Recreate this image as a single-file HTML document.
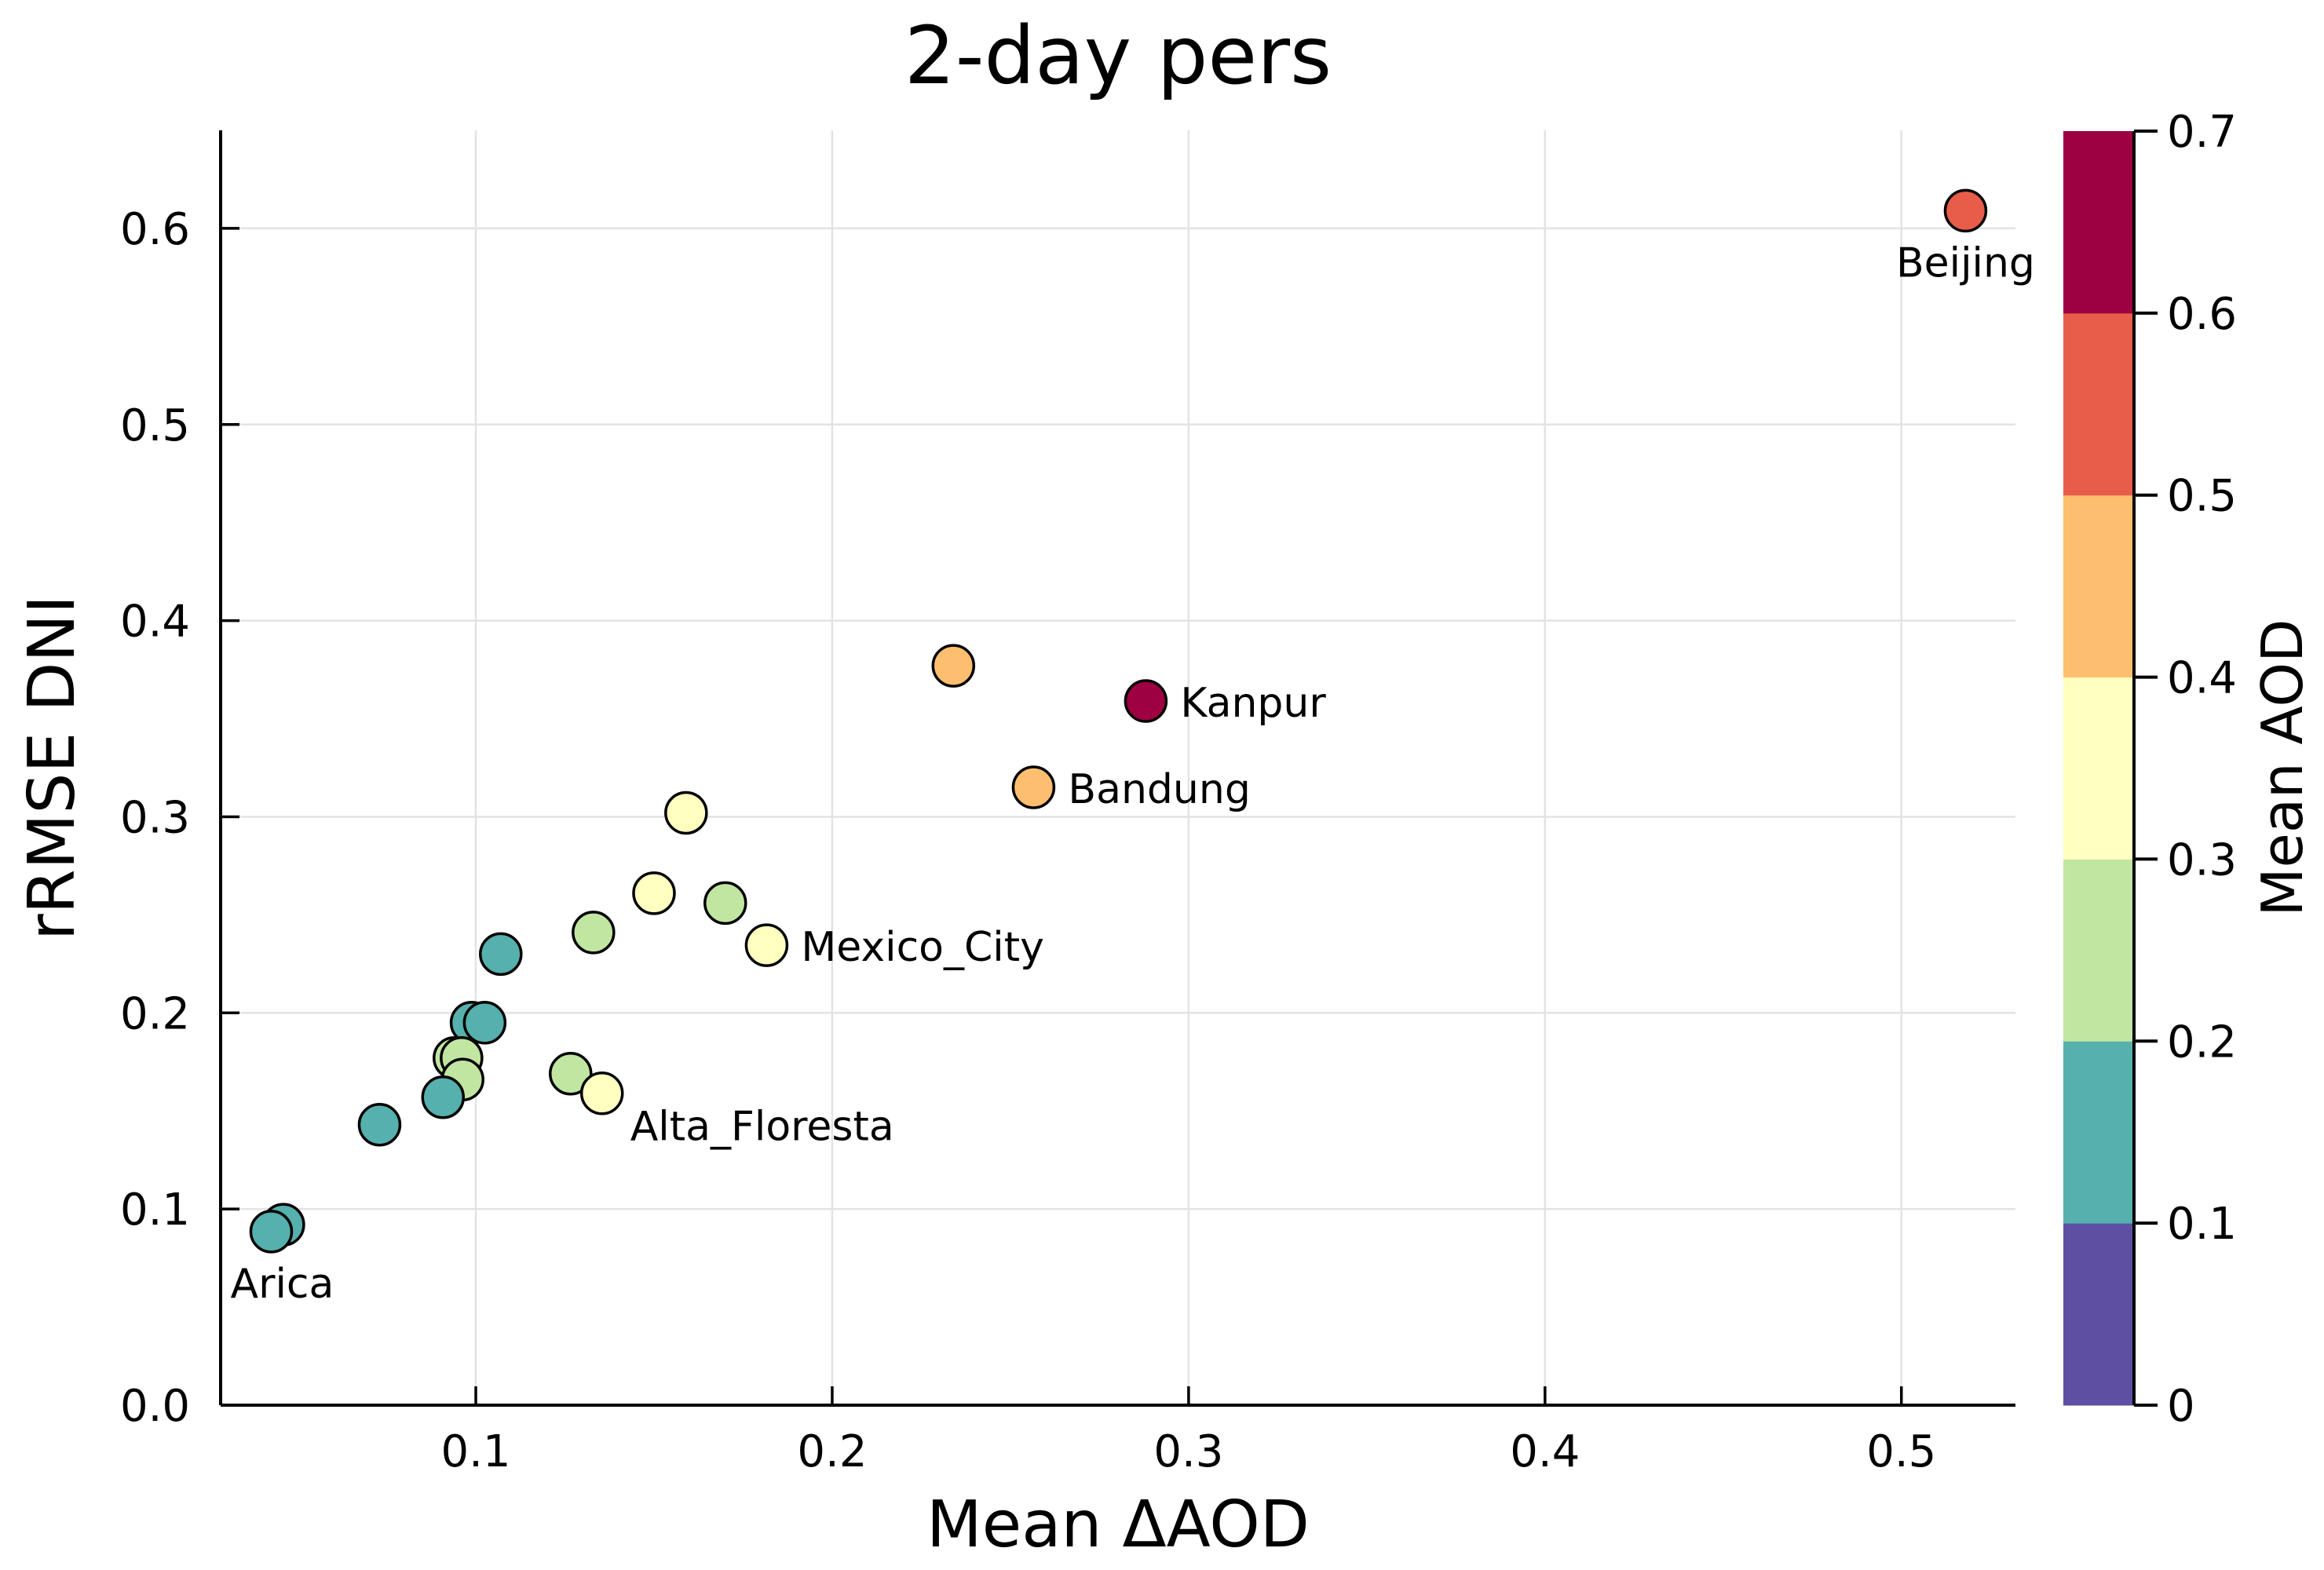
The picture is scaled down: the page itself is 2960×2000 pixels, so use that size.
<!DOCTYPE html>
<html><head><meta charset="utf-8"><style>
html,body{margin:0;padding:0;background:#fff;}
svg{display:block;font-family:"DejaVu Sans","Liberation Sans",sans-serif;}
</style></head><body>
<svg id="chart" width="2960" height="2000" viewBox="0 0 2960 2000" xmlns="http://www.w3.org/2000/svg">
<rect width="2960" height="2000" fill="#fff"/>
<g id="grid"></g>
<g id="axes"></g>
<g id="points"></g>
<g id="labels"></g>
<g id="cbar"></g>
<text x="1424" y="106" font-size="102" text-anchor="middle">2-day pers</text>
<text x="1424" y="1970" font-size="82" text-anchor="middle">Mean ΔAOD</text>
<text x="0" y="0" font-size="82" text-anchor="middle" transform="translate(94,978) rotate(-90)">rRMSE DNI</text>
<text x="0" y="0" font-size="72" text-anchor="middle" transform="translate(2932,978) rotate(-90)">Mean AOD</text>
</svg>
<script>
const xVals = [0.518, 0.288, 0.234, 0.2565, 0.159, 0.150, 0.170, 0.1816, 0.133, 0.107, 0.0988, 0.1025, 0.094, 0.096, 0.0963, 0.0908, 0.1266, 0.1354, 0.073, 0.046, 0.0426];
const yVals = [0.609, 0.359, 0.377, 0.315, 0.302, 0.261, 0.256, 0.2345, 0.241, 0.230, 0.195, 0.195, 0.177, 0.177, 0.166, 0.157, 0.169, 0.159, 0.143, 0.092, 0.0885];
const aodVals = [0.55, 0.65, 0.45, 0.45, 0.35, 0.35, 0.25, 0.35, 0.25, 0.15, 0.15, 0.15, 0.25, 0.25, 0.25, 0.15, 0.25, 0.35, 0.15, 0.15, 0.15];
const pointNames = ["Beijing", "Kanpur", "", "Bandung", "", "", "", "Mexico_City", "", "", "", "", "", "", "", "", "", "Alta_Floresta", "", "", "Arica"];
const xTicks = [0.1, 0.2, 0.3, 0.4, 0.5];
const xTickLabels = ["0.1", "0.2", "0.3", "0.4", "0.5"];
const yTicks = [0, 0.1, 0.2, 0.3, 0.4, 0.5, 0.6];
const yTickLabels = ["0.0", "0.1", "0.2", "0.3", "0.4", "0.5", "0.6"];
const cbTicks = [0, 0.1, 0.2, 0.3, 0.4, 0.5, 0.6, 0.7];
const cbTickLabels = ["0", "0.1", "0.2", "0.3", "0.4", "0.5", "0.6", "0.7"];
const cbColors = ["#5e4fa2", "#56b0ad", "#c1e6a1", "#ffffc0", "#fdbf6f", "#e85d4a", "#9e0142"];

const NS = "http://www.w3.org/2000/svg";
const L = 281, R = 2567, T = 166, B = 1790;
const xMin = 0.0284, xMax = 0.532, yMin = 0, yMax = 0.65;
function sx(v){ return L + (v - xMin) / (xMax - xMin) * (R - L); }
function sy(v){ return B - (v - yMin) / (yMax - yMin) * (B - T); }
const cbL = 2628, cbR = 2718, cbMax = 0.7;
function cy(v){ return B - v / cbMax * (B - 167); }
function mk(tag, attrs, parent){ const e = document.createElementNS(NS, tag); for (const k in attrs) e.setAttribute(k, attrs[k]); parent.appendChild(e); return e; }

const grid = document.getElementById('grid');
const axes = document.getElementById('axes');
xTicks.forEach((t, i) => {
  const g = mk('line', {x1: sx(t), x2: sx(t), y1: T, y2: B, stroke: '#e3e3e3', 'stroke-width': 2.5}, grid);
  
  
  const tk = mk('line', {x1: sx(t), x2: sx(t), y1: B, y2: B - 24, stroke: '#000', 'stroke-width': 3.5}, axes);
  
  
  const tx = mk('text', {x: sx(t), y: 1868, 'font-size': 56, 'text-anchor': 'middle'}, axes);
  tx.textContent = xTickLabels[i];
  
  
});
yTicks.forEach((t, i) => {
  const g = mk('line', {x1: L, x2: R, y1: sy(t), y2: sy(t), stroke: '#e3e3e3', 'stroke-width': 2.5}, grid);
  
  
  const tk = mk('line', {x1: L, x2: L + 24, y1: sy(t), y2: sy(t), stroke: '#000', 'stroke-width': 3.5}, axes);
  
  
  const tx = mk('text', {x: 242, y: sy(t) + 20, 'font-size': 56, 'text-anchor': 'end'}, axes);
  tx.textContent = yTickLabels[i];
  
  
});
const xa = mk('line', {x1: L, x2: R, y1: B, y2: B, stroke: '#000', 'stroke-width': 4}, axes);


const ya = mk('line', {x1: L, x2: L, y1: T, y2: B, stroke: '#000', 'stroke-width': 4}, axes);



function colorFor(v){ let i = Math.floor(v / 0.1); if (i < 0) i = 0; if (i > cbColors.length - 1) i = cbColors.length - 1; return cbColors[i]; }
const pts = document.getElementById('points');
const labs = document.getElementById('labels');
xVals.forEach((xv, i) => {
  const c = mk('circle', {cx: sx(xv), cy: sy(yVals[i]), r: 26, fill: colorFor(aodVals[i]), stroke: '#000', 'stroke-width': 3.5}, pts);
  
  
  const nm = pointNames[i];
  if (nm) {
    let x = sx(xv), y = sy(yVals[i]), anchor = 'start';
    if (nm === 'Beijing' || nm === 'Arica') { anchor = 'middle'; y += 84; if (nm === 'Arica') x += 14; }
    else { x += 44; y += 20; if (nm === 'Alta_Floresta') { y += 40; x -= 8; } }
    const t = mk('text', {x: x, y: y, 'font-size': 52, 'text-anchor': anchor}, labs);
    t.textContent = nm;
    
    
  }
});

const cb = document.getElementById('cbar');
cbColors.forEach((col, i) => {
  const r = mk('rect', {x: cbL, y: cy((i + 1) * 0.1), width: cbR - cbL, height: cy(i * 0.1) - cy((i + 1) * 0.1) + 0.5, fill: col}, cb);
  
  
});
const cba = mk('line', {x1: cbR, x2: cbR, y1: cy(0.7), y2: B, stroke: '#000', 'stroke-width': 4}, cb);


cbTicks.forEach((t, i) => {
  const tk = mk('line', {x1: cbR, x2: cbR + 30, y1: cy(t), y2: cy(t), stroke: '#000', 'stroke-width': 4}, cb);
  
  
  const tx = mk('text', {x: 2760, y: cy(t) + 20, 'font-size': 56, 'text-anchor': 'start'}, cb);
  tx.textContent = cbTickLabels[i];
  
  
});
</script>
</body></html>
